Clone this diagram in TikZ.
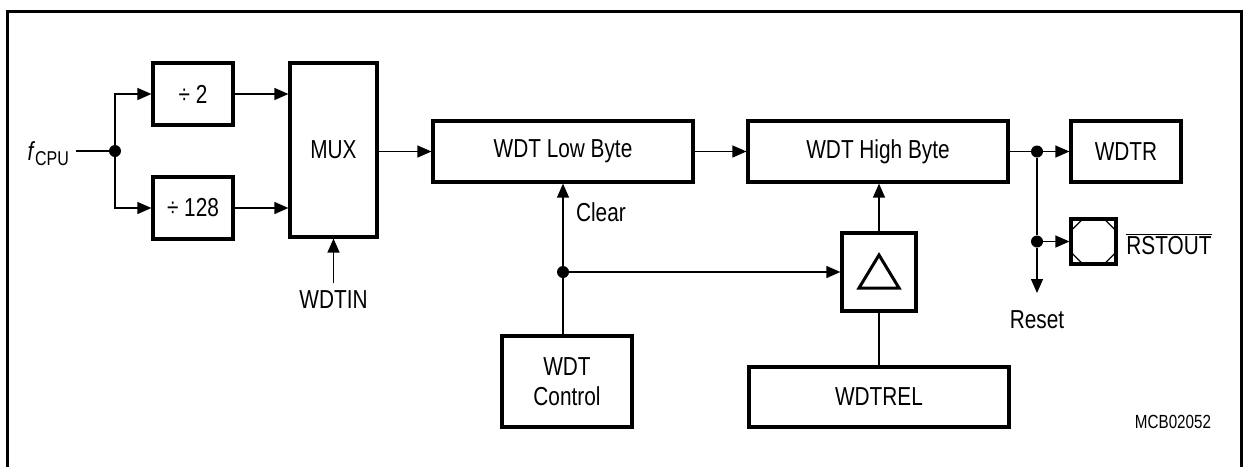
\documentclass[tikz,border=0pt]{standalone}
\usepackage{fontspec}
\setmainfont{Liberation Sans}[FakeStretch=0.8]
\usetikzlibrary{arrows.meta}

\begin{document}
\begin{tikzpicture}[x=0.5pt,y=-0.5pt,
  font=\fontsize{13}{15}\selectfont,
  blk/.style={draw,line width=1.6pt,inner sep=0pt,align=center},
  wire/.style={line width=0.65pt},
  arr/.style={wire,-{Triangle[length=7pt,width=6pt]}},
  dot/.style={circle,fill,inner sep=0pt,minimum size=6pt}]
\useasboundingbox (0,0) rectangle (1243,467);
% Frame (open at the bottom)
\draw[line width=1.5pt] (7,467) -- (7,11) -- (1241,11) -- (1241,467);
% Clock input and prescaler
\node[anchor=base east] (fcpu) at (76,160)
  {\textit{f}\raisebox{-2.5pt}{\fontsize{10}{10}\selectfont CPU}};
\node[dot] (j1) at (115,151) {};
\node[blk,minimum width=40pt,minimum height=31pt] (div2) at (193,94) {÷ 2};
\node[blk,minimum width=40pt,minimum height=31pt] (div128) at (193,208) {÷ 128};
\node[blk,minimum width=43.5pt,minimum height=87pt] (mux) at (333.5,150) {MUX};
\node (wdtin) at (333.5,299.5) {WDTIN};
% Counter
\node[blk,minimum width=130pt,minimum height=30.5pt] (low) at (563,151.5) {WDT Low Byte};
\node[blk,minimum width=130pt,minimum height=30.5pt] (high) at (878,151.5) {WDT High Byte};
\node[blk,minimum width=55pt,minimum height=30.5pt] (wdtr) at (1126,151.5) {WDTR};
% Outputs
\node[dot] (j2) at (1037,151.5) {};
\node[dot] (j3) at (1037,241.5) {};
\node[draw,line width=1.6pt,inner sep=0pt,minimum size=22.5pt] (pad) at (1093.5,241.5) {};
\node[anchor=west,inner sep=0pt] (rstout) at (1126,244) {$\overline{\mbox{RSTOUT}}$};
\coordinate (rtip) at (1037,293);
\node (reset) at (1037,319.5) {Reset};
% Control and reload
\node[dot] (j4) at (563,272) {};
\node[anchor=west] (clear) at (569,212) {Clear};
\node[blk,minimum width=65pt,minimum height=45.5pt] (ctrl) at (567,381.5) {WDT\\Control};
\node[blk,minimum width=37pt,minimum height=39pt] (tri) at (879,272) {};
\draw[line width=1.5pt,line join=miter] (859,288) -- (879,255) -- (899,288) -- cycle;
\node[blk,minimum width=130pt,minimum height=30pt] (wdtrel) at (879,397) {WDTREL};
\node[font=\fontsize{9.5}{10}\selectfont] (code) at (1173,422) {MCB02052};
% Pad corners
\draw[wire] ([xshift=7.5pt]pad.north west) -- ([yshift=-7.5pt]pad.north west);
\draw[wire] ([xshift=-7.5pt]pad.north east) -- ([yshift=-7.5pt]pad.north east);
\draw[wire] ([xshift=7.5pt]pad.south west) -- ([yshift=7.5pt]pad.south west);
\draw[wire] ([xshift=-7.5pt]pad.south east) -- ([yshift=7.5pt]pad.south east);
% Connections
\draw[wire] (fcpu.east |- j1) -- (j1);
\draw[arr] (j1) |- (div2);
\draw[arr] (j1) |- (div128);
\draw[arr] (div2) -- (div2 -| mux.west);
\draw[arr] (div128) -- (div128 -| mux.west);
\draw[arr] (wdtin.north) -- (wdtin.north |- mux.south);
\draw[arr] (mux.east |- low) -- (low.west);
\draw[arr] (low) -- (high);
\draw[wire] (high) -- (j2);
\draw[arr] (j2) -- (wdtr);
\draw[wire] (j2) -- (j3);
\draw[arr] (j3) -- (rtip);
\draw[arr] (j3) -- (pad);
\draw[arr] (j4) -- (low.south);
\draw[wire] (ctrl.north -| j4) -- (j4);
\draw[arr] (j4) -- (tri);
\draw[arr] (tri.north) -- (tri.north |- high.south);
\draw[wire] (wdtrel) -- (tri);
\end{tikzpicture}
\end{document}
